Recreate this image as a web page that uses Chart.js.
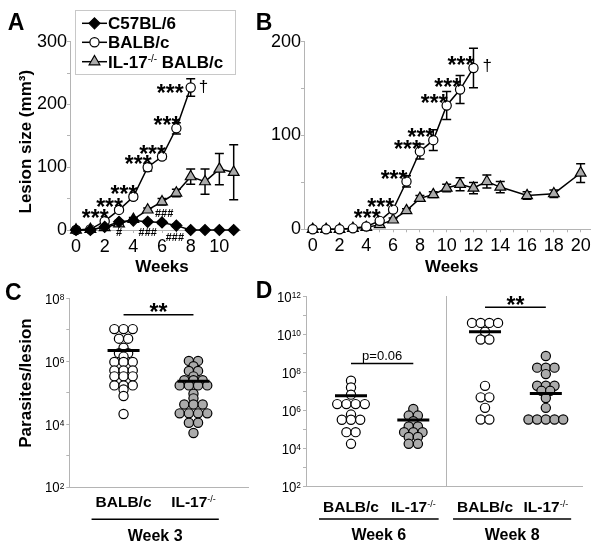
<!DOCTYPE html>
<html>
<head>
<meta charset="utf-8">
<script src="https://cdn.jsdelivr.net/npm/chart.js@4.4.1/dist/chart.umd.min.js"></script>
<style>
html,body{margin:0;padding:0;background:#fff;}
#fig{position:relative;width:601px;height:549px;background:#fff;overflow:hidden;}
#fig canvas{position:absolute;left:0;top:0;width:601px;height:549px;}
</style>
</head>
<body>
<div id="fig">
<canvas id="cA" width="601" height="549"></canvas>
<canvas id="cB" width="601" height="549"></canvas>
<canvas id="cC" width="601" height="549"></canvas>
<canvas id="cD6" width="601" height="549"></canvas>
<canvas id="cD8" width="601" height="549"></canvas>
</div>
<script>
// ================= DATA =================
// Panel A : lesion size (mm3) vs weeks
const xTicksA   = [0,1,2,3,4,5,6,7,8,9,10,11];
const xLabelsA  = [0,2,4,6,8,10];
const yTicksA   = [0,50,100,150,200,250,300];
const yLabelsA  = [0,100,200,300];
const weeksA    = [0,1,2,3,4,5,6,7,8,9,10,11];
const c57A      = [0,0,5,13,15,13,12,7,0,0,0,0];
const c57ErrA   = [0,0,1,2,2,2,2,2,0,0,0,0];
const balbWeeksA= [0,1,2,3,4,5,6,7,8];
const balbA     = [0,1,14,32,53,100,117,162,227];
const balbErrA  = [0,0,2,3,4,6,4,9,14];
const il17A     = [0,1,4,10,17,32,45,59,85,77,97,92];
const il17ErrA  = [0,0,1,2,3,3,5,6,12,20,25,44];
const sigWeeksA = [2,3,4,5,6,7,8];
const hashTextA = ['#','###','###','###'];
const hashWeekA = [3,5,6.15,6.9];
const hashValA  = [-3,-3,27,-11];

// Panel B
const xTicksB   = [0,1,2,3,4,5,6,7,8,9,10,11,12,13,14,15,16,17,18,19,20];
const xLabelsB  = [0,2,4,6,8,10,12,14,16,18,20];
const yTicksB   = [0,50,100,150,200];
const yLabelsB  = [0,100,200];
const balbWeeksB= [0,1,2,3,4,5,6,7,8,9,10,11,12];
const balbB     = [0,0,0,1,3,9,21,51,83,95,132,149,172];
const balbErrB  = [0,0,0,1,1,1,2,6,8,11,15,15,21];
const il17WeeksB= [0,1,2,3,4,5,6,7,8,9,10,11,12,13,14,16,18,20];
const il17B     = [0,0,0,1,2,5,10,20,33,37,44,48,44,51,45,36,38,60];
const il17ErrB  = [0,0,0,0,1,1,2,2,3,3,4,7,6,7,6,4,4,10];
const sigWeeksB = [5,6,7,8,9,10,11,12];

// Panel C : parasites / lesion, week 3
const decadesC  = [2,3,4,5,6,7,8];
const labelExpC = [2,4,6,8];
const cBalb = [1.05e7,1.05e7,1.05e7,5.2e6,5.2e6,2.7e6,1.8e6,1.8e6,1.4e6,9.5e5,9.5e5,9.5e5,
               5.1e5,5.1e5,5.1e5,3.3e5,3.3e5,3.3e5,1.7e5,1.7e5,1.7e5,1.26e5,7.8e4,2.1e4];
const cIl17 = [1.02e6,1.02e6,6.9e5,4.9e5,4.9e5,3.3e5,2.5e5,2.5e5,2.5e5,1.7e5,1.7e5,1.7e5,1.7e5,
               9.3e4,6.6e4,4.2e4,4.2e4,4.2e4,2.2e4,2.2e4,2.2e4,2.2e4,1.1e4,1.1e4,5.2e3];
const cMeans = [2.2e6, 2.3e5];
const cSig   = 3e7;

// Panel D : weeks 6 and 8
const decadesD  = [2,3,4,5,6,7,8,9,10,11,12];
const labelExpD = [2,4,6,8,10,12];
const d6Balb = [3.7e7,1.66e7,6.9e6,2.2e6,2.2e6,2.2e6,2.2e6,6.2e5,3.3e5,3.3e5,3.3e5,7.4e4,7.4e4,1.8e4];
const d6Il17 = [1.23e6,5.5e5,5.5e5,2.75e5,1.48e5,1.48e5,7.4e4,7.4e4,7.4e4,4.1e4,4.1e4,1.8e4,1.8e4];
const d6Means = [6.0e6, 3.2e5];
const d6Sig = 3e8;
const d8Balb = [4.1e10,4.1e10,4.1e10,4.1e10,1.4e10,5.5e9,5.5e9,2.0e7,5.0e6,5.0e6,1.4e6,3.4e5,3.4e5];
const d8Il17 = [7.4e8,1.82e8,1.82e8,1.82e8,8.3e7,2.04e7,2.04e7,2.04e7,1.1e7,1.1e7,4.6e6,1.4e6,
                3.4e5,3.4e5,3.4e5,3.4e5,3.4e5];
const d8Means = [1.4e10, 7.9e6];
const d8Sig = 2.7e11;

// ================= STYLE / HELPERS =================
const FONT = "'Liberation Sans', Arial, Helvetica, sans-serif";
const AX = '#b4b4b4';
const GREY = '#ababab';
const INK = '#000';
const W = 601, H = 549;

function font(size, weight){ return (weight||'normal') + ' ' + size + 'px ' + FONT; }

function text(ctx, s, x, cy, size, weight, align, opts){
  opts = opts || {};
  ctx.save();
  ctx.font = font(size, weight);
  ctx.fillStyle = INK;
  ctx.textAlign = align || 'center';
  ctx.textBaseline = 'alphabetic';
  const k = opts.k !== undefined ? opts.k : 0.36;
  ctx.translate(x, cy);
  if (opts.rot) ctx.rotate(opts.rot);
  if (opts.sx) ctx.scale(opts.sx, 1);
  ctx.fillText(s, 0, k*size);
  ctx.restore();
}

function rich(ctx, parts, x, cy, align, sx){
  sx = sx || 1;
  ctx.save();
  let w = 0;
  parts.forEach(p => { ctx.font = font(p.size, p.weight); p.w = ctx.measureText(p.t).width; w += p.w; });
  ctx.translate(x, cy); ctx.scale(sx, 1);
  let cx = align === 'center' ? -w/2 : (align === 'right' ? -w : 0);
  ctx.fillStyle = INK; ctx.textAlign = 'left'; ctx.textBaseline = 'alphabetic';
  const base = 0.36 * parts[0].size;
  parts.forEach(p => { ctx.font = font(p.size, p.weight); ctx.fillText(p.t, cx, base + (p.dy||0)); cx += p.w; });
  ctx.restore();
  return w * sx;
}

function hline(ctx, x1, x2, y, lw){
  ctx.save(); ctx.strokeStyle = INK; ctx.lineWidth = lw || 1.5;
  ctx.beginPath(); ctx.moveTo(x1, y); ctx.lineTo(x2, y); ctx.stroke(); ctx.restore();
}

function marker(ctx, style, x, y, r, fill){
  ctx.save(); ctx.beginPath();
  if (style === 'circle') ctx.arc(x, y, r, 0, Math.PI*2);
  else if (style === 'rectRot'){ ctx.moveTo(x, y-r); ctx.lineTo(x+r, y); ctx.lineTo(x, y+r); ctx.lineTo(x-r, y); ctx.closePath(); }
  else { ctx.moveTo(x, y-r); ctx.lineTo(x+r*0.866, y+r/2); ctx.lineTo(x-r*0.866, y+r/2); ctx.closePath(); }
  ctx.fillStyle = fill; ctx.fill(); ctx.lineWidth = 1.2; ctx.strokeStyle = INK; ctx.stroke(); ctx.restore();
}

function pad(g, yw, xh){ return {left: g.l - yw, right: W - g.r, top: g.t, bottom: H - g.b - xh}; }

function pts(xs, ys){ return xs.map((x,i) => ({x:x, y:ys[i]})); }

// beeswarm rows: identical values are spread horizontally in a row
function swarm(values, center, pxPerUnit, gapPx){
  const counts = {}, seen = {};
  values.forEach(v => counts[v] = (counts[v]||0) + 1);
  return values.map(v => {
    const n = counts[v]; const k = seen[v] = (seen[v] === undefined ? 0 : seen[v] + 1);
    return {x: center + (k - (n-1)/2) * gapPx / pxPerUnit, y: v};
  });
}

const errorBars = {
  id: 'errorBars',
  beforeDatasetsDraw(chart){
    const ctx = chart.ctx, ys = chart.scales.y;
    chart.data.datasets.forEach((ds, i) => {
      if (!ds.errors) return;
      const meta = chart.getDatasetMeta(i);
      meta.data.forEach((el, j) => {
        const e = ds.errors[j]; if (!e) return;
        const v = ds.data[j].y;
        const y1 = ys.getPixelForValue(v + e), y2 = ys.getPixelForValue(v - e);
        ctx.save(); ctx.strokeStyle = INK; ctx.lineWidth = 1.5; ctx.beginPath();
        ctx.moveTo(el.x, y1); ctx.lineTo(el.x, y2);
        ctx.moveTo(el.x-4.5, y1); ctx.lineTo(el.x+4.5, y1);
        ctx.moveTo(el.x-4.5, y2); ctx.lineTo(el.x+4.5, y2);
        ctx.stroke(); ctx.restore();
      });
    });
  }
};

function baseOpts(padding){
  return {
    responsive: false, animation: false, devicePixelRatio: 1, events: [],
    layout: {padding: padding},
    plugins: {legend: {display: false}, tooltip: {enabled: false}}
  };
}

function linAxis(min, max, tickVals, labelVals, fitProp, fitVal, tickPad){
  return {
    type: 'linear', min: min, max: max,
    afterBuildTicks: s => { s.ticks = tickVals.map(v => ({value: v})); },
    afterFit: s => { s[fitProp] = fitVal; },
    border: {color: AX, width: 1},
    grid: {display: true, drawOnChartArea: false, drawTicks: true, tickLength: 3, color: AX},
    ticks: {autoSkip: false, maxRotation: 0, padding: tickPad, color: INK,
            font: {family: FONT, size: 18},
            callback: v => labelVals.includes(v) ? String(v) : ''}
  };
}

function logAxis(min, max, decs, width){
  return {
    type: 'logarithmic', min: min, max: max,
    afterBuildTicks: s => { s.ticks = decs.map(e => ({value: Math.pow(10, e)})); },
    afterFit: s => { s.width = width; },
    border: {color: AX, width: 1},
    grid: {display: true, drawOnChartArea: false, drawTicks: true, tickLength: 3, color: AX},
    ticks: {display: true, autoSkip: false, callback: () => ''}
  };
}

function logLabels(chart, exps){
  const ctx = chart.ctx, ys = chart.scales.y;
  const right = chart.chartArea.left - 5;
  exps.forEach(e => {
    const y = ys.getPixelForValue(Math.pow(10, e));
    rich(ctx, [{t:'10', size:15, weight:'normal'}, {t:String(e), size:9.5, weight:'normal', dy:-3.8}], right, y, 'right', 0.88);
  });
}

function lineStyle(style, fill, r){
  return {borderColor: INK, borderWidth: 1.5, tension: 0, pointStyle: style, pointRadius: r,
          pointBackgroundColor: fill, pointBorderColor: INK, pointBorderWidth: 1.2, clip: false};
}

// ================= PANEL A =================
const gA = {l:70, r:240, t:41.7, b:230};
const optA = baseOpts(pad(gA, 70, 30));
optA.scales = {
  x: linAxis(-0.42, 11.44, xTicksA, xLabelsA, 'height', 30, 3),
  y: linAxis(0, 300, yTicksA, yLabelsA, 'width', 70, 0)
};
new Chart(document.getElementById('cA'), {
  type: 'line',
  data: {datasets: [
    Object.assign({label:'C57BL/6', data: pts(weeksA, c57A), errors: c57ErrA}, lineStyle('rectRot', INK, 5.5)),
    Object.assign({label:'BALB/c', data: pts(balbWeeksA, balbA), errors: balbErrA}, lineStyle('circle', '#fff', 4.6)),
    Object.assign({label:'IL-17-/- BALB/c', data: pts(weeksA, il17A), errors: il17ErrA}, lineStyle('triangle', GREY, 6.2))
  ]},
  options: optA,
  plugins: [errorBars, {
    id: 'annotA',
    afterDatasetsDraw(chart){
      const ctx = chart.ctx, xs = chart.scales.x, ys = chart.scales.y;
      const meta = chart.getDatasetMeta(1);
      sigWeeksA.forEach((w, i) => {
        const el = meta.data[balbWeeksA.indexOf(w)];
        const last = i === sigWeeksA.length - 1;
        text(ctx, '***', el.x + (last ? -7 : 4), el.y + (last ? 0 : -8), 23, 'bold', 'right', {k:0.57});
        if (last) text(ctx, '\u2020', el.x + 8, el.y, 17, 'normal', 'left', {k:0.29});
      });
      hashTextA.forEach((t, i) => {
        text(ctx, t, xs.getPixelForValue(hashWeekA[i]), ys.getPixelForValue(hashValA[i]), 11, 'bold', 'center');
      });
    },
    afterDraw(chart){
      const ctx = chart.ctx;
      // legend
      ctx.save(); ctx.strokeStyle = '#c8c8c8'; ctx.lineWidth = 1; ctx.strokeRect(75.5, 10.5, 160, 64); ctx.restore();
      const rows = [23.3, 42.3, 61.7];
      const styles = [['rectRot', INK, 5.5], ['circle', '#fff', 4.6], ['triangle', GREY, 6.2]];
      rows.forEach((y, i) => {
        hline(ctx, 82, 107, y, 1.5);
        marker(ctx, styles[i][0], 94.5, y, styles[i][2], styles[i][1]);
      });
      rich(ctx, [{t:'C57BL/6', size:17, weight:'bold'}], 108, rows[0], 'left');
      rich(ctx, [{t:'BALB/c', size:17, weight:'bold'}], 108, rows[1], 'left');
      rich(ctx, [{t:'IL-17', size:17, weight:'bold'}, {t:'-/-', size:10, weight:'normal', dy:-5.5}, {t:' BALB/c', size:17, weight:'bold'}], 108, rows[2], 'left');
      // titles
      text(ctx, 'Lesion size (mm\u00B3)', 25, 141.7, 17, 'bold', 'center', {rot: -Math.PI/2});
      text(ctx, 'Weeks', 162, 266.3, 17, 'bold', 'center');
      text(ctx, 'A', 16, 22, 23, 'bold', 'center');
    }
  }]
});

// ================= PANEL B =================
const gB = {l:304, r:590.7, t:41.7, b:229.3};
const optB = baseOpts(pad(gB, 40, 30));
optB.scales = {
  x: linAxis(-0.65, 20.75, xTicksB, xLabelsB, 'height', 30, 3),
  y: linAxis(0, 200, yTicksB, yLabelsB, 'width', 40, 0)
};
new Chart(document.getElementById('cB'), {
  type: 'line',
  data: {datasets: [
    Object.assign({label:'BALB/c', data: pts(balbWeeksB, balbB), errors: balbErrB}, lineStyle('circle', '#fff', 4.6)),
    Object.assign({label:'IL-17-/- BALB/c', data: pts(il17WeeksB, il17B), errors: il17ErrB}, lineStyle('triangle', GREY, 6.2))
  ]},
  options: optB,
  plugins: [errorBars, {
    id: 'annotB',
    afterDatasetsDraw(chart){
      const ctx = chart.ctx;
      const meta = chart.getDatasetMeta(0);
      sigWeeksB.forEach((w, i) => {
        const el = meta.data[balbWeeksB.indexOf(w)];
        text(ctx, '***', el.x + 1, el.y - 8, 23, 'bold', 'right', {k:0.57});
        if (i === sigWeeksB.length - 1) text(ctx, '\u2020', el.x + 9, el.y - 2, 17, 'normal', 'left', {k:0.29});
      });
    },
    afterDraw(chart){
      const ctx = chart.ctx;
      text(ctx, 'Weeks', 451.7, 266.3, 17, 'bold', 'center');
      text(ctx, 'B', 264, 22, 23, 'bold', 'center');
    }
  }]
});

// ================= DOT PLOTS =================
function groupLabels(chart, cy, weekText, weekSize){
  const ctx = chart.ctx, xs = chart.scales.x, b = chart.chartArea.bottom;
  const x1 = xs.getPixelForValue(1), x2 = xs.getPixelForValue(2);
  const w1 = rich(ctx, [{t:'BALB/c', size:15.5, weight:'bold'}], x1, cy, 'center');
  const w2 = rich(ctx, [{t:'IL-17', size:15.5, weight:'bold'}, {t:'-/-', size:9, weight:'normal', dy:-5}], x2, cy, 'center');
  const left = x1 - w1/2 - 4, right = x2 + w2/2 + 3;
  hline(ctx, left, right, b + 32.3, 1.5);
  text(ctx, weekText, (left + right)/2, b + 48, weekSize, 'bold', 'center');
}

function sigBar(chart, yVal, label, size, weight){
  const xs = chart.scales.x, ys = chart.scales.y;
  const y = ys.getPixelForValue(yVal);
  const xm = (xs.getPixelForValue(1) + xs.getPixelForValue(2)) / 2;
  if (label === '**') text(chart.ctx, label, xm, y - 7.5, 23, 'bold', 'center', {k:0.57});
  else text(chart.ctx, label, xm, y - 8, size, weight, 'center');
}

function dotDatasets(balb, il17, means, sig, pxu){
  return [
    {data: pts([1,2], means), showLine: false, pointStyle: 'line', pointRadius: 16,
     pointBorderColor: INK, pointBorderWidth: 3, order: 0, clip: false},
    {data: pts([1,2], [sig, sig]), showLine: true, borderColor: INK, borderWidth: 1.5, pointRadius: 0, order: 0, clip: false},
    {data: swarm(balb, 1, pxu, 9.2), pointStyle: 'circle', pointRadius: 4.6, pointBackgroundColor: '#fff',
     pointBorderColor: INK, pointBorderWidth: 1.2, order: 1, clip: false},
    {data: swarm(il17, 2, pxu, 9.2), pointStyle: 'circle', pointRadius: 4.6, pointBackgroundColor: GREY,
     pointBorderColor: INK, pointBorderWidth: 1.2, order: 1, clip: false}
  ];
}

function catAxis(min, max){
  return {type: 'linear', min: min, max: max, afterFit: s => { s.height = 10; },
          border: {color: AX, width: 1}, grid: {display: false}, ticks: {display: false}};
}

// ---- C ----
const gC = {l:69.3, r:248, t:298.3, b:487};
const xrC = [0.224, 2.78];
const optC = baseOpts(pad(gC, 30, 10));
optC.scales = {x: catAxis(xrC[0], xrC[1]), y: logAxis(1e2, 1e8, decadesC, 30)};
new Chart(document.getElementById('cC'), {
  type: 'scatter',
  data: {datasets: dotDatasets(cBalb, cIl17, cMeans, cSig, (gC.r - gC.l)/(xrC[1] - xrC[0]))},
  options: optC,
  plugins: [{
    id: 'annotC',
    afterDraw(chart){
      const ctx = chart.ctx;
      logLabels(chart, labelExpC);
      text(ctx, 'Parasites/lesion', 25, 383, 17, 'bold', 'center', {rot: -Math.PI/2});
      groupLabels(chart, chart.chartArea.bottom + 14, 'Week 3', 16);
      sigBar(chart, cSig, '**');
      text(ctx, 'C', 13.3, 292, 23, 'bold', 'center');
    }
  }]
});

// ---- D (week 6) ----
const gD6 = {l:306, r:446.7, t:296.5, b:486.7};
const xrD6 = [0.2777, 2.536];
const optD6 = baseOpts(pad(gD6, 30, 10));
optD6.scales = {x: catAxis(xrD6[0], xrD6[1]), y: logAxis(1e2, 1e12, decadesD, 30)};
new Chart(document.getElementById('cD6'), {
  type: 'scatter',
  data: {datasets: dotDatasets(d6Balb, d6Il17, d6Means, d6Sig, (gD6.r - gD6.l)/(xrD6[1] - xrD6[0]))},
  options: optD6,
  plugins: [{
    id: 'annotD6',
    afterDraw(chart){
      const ctx = chart.ctx;
      logLabels(chart, labelExpD);
      groupLabels(chart, chart.chartArea.bottom + 20, 'Week 6', 16);
      sigBar(chart, d6Sig, 'p=0.06', 13, 'normal');
      text(ctx, 'D', 264, 290, 23, 'bold', 'center');
    }
  }]
});

// ---- D (week 8) ----
const gD8 = {l:446.7, r:590, t:296.5, b:486.7};
const xrD8 = [0.3696, 2.595];
const optD8 = baseOpts(pad(gD8, 0, 10));
const yD8 = logAxis(1e2, 1e12, decadesD, 0);
yD8.grid = {display: false};
yD8.ticks = {display: false};
optD8.scales = {x: catAxis(xrD8[0], xrD8[1]), y: yD8};
new Chart(document.getElementById('cD8'), {
  type: 'scatter',
  data: {datasets: dotDatasets(d8Balb, d8Il17, d8Means, d8Sig, (gD8.r - gD8.l)/(xrD8[1] - xrD8[0]))},
  options: optD8,
  plugins: [{
    id: 'annotD8',
    afterDraw(chart){
      groupLabels(chart, chart.chartArea.bottom + 20, 'Week 8', 16);
      sigBar(chart, d8Sig, '**');
    }
  }]
});
</script>
</body>
</html>
